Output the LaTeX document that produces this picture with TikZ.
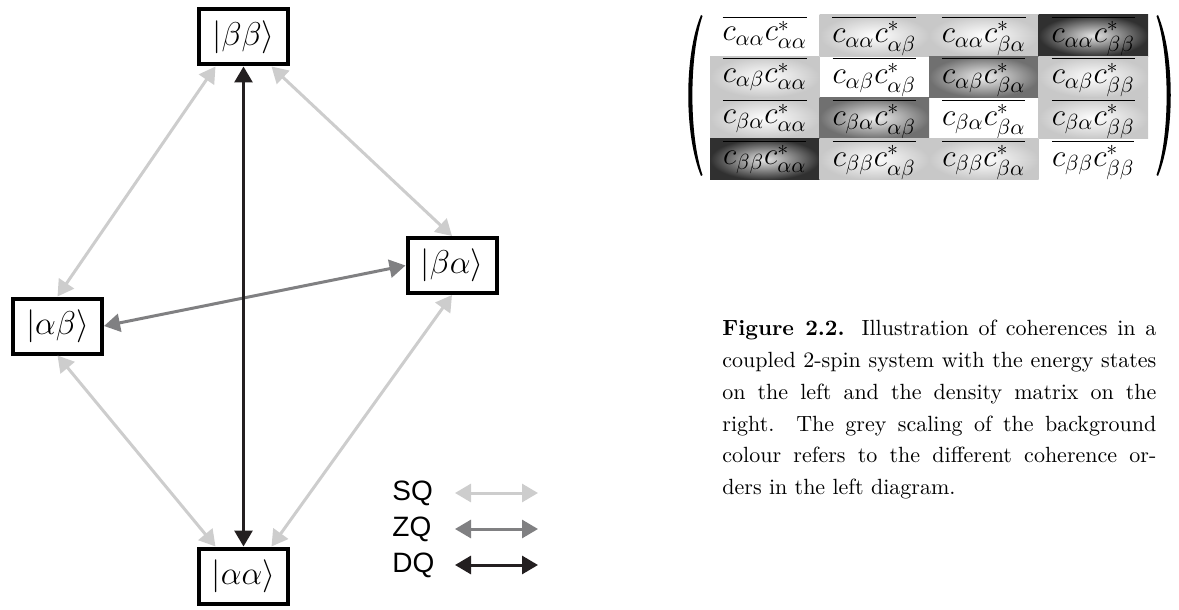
\RequirePackage{fix-cm}
\documentclass[tikz,border=0pt]{standalone}
\usepackage{amsmath}
\usepackage{fontspec}
\setmainfont{Latin Modern Roman}
\newfontfamily\legendfont{Liberation Sans}
\usetikzlibrary{arrows.meta}

% arrow colours for the coherence orders
\definecolor{sqgrey}{RGB}{205,205,205}
\definecolor{zqgrey}{RGB}{128,128,130}
\definecolor{dqgrey}{RGB}{35,31,32}
% background colours of the matrix elements
\definecolor{sqcell}{RGB}{200,200,200}
\definecolor{zqcell}{RGB}{112,112,112}
\definecolor{dqcell}{RGB}{48,48,48}

\tikzset{
  ket/.style={draw=black, line width=2pt, fill=white, minimum width=44.5pt,
    minimum height=27.5pt, inner sep=0pt, font=\fontsize{16.5}{20}\selectfont},
  cohtip/.tip={Triangle[length=8pt,width=9pt]},
  sqarrow/.style={draw=sqgrey, line width=1.5pt, {cohtip}-{cohtip}},
  zqarrow/.style={draw=zqgrey, line width=1.5pt, {cohtip}-{cohtip}},
  dqarrow/.style={draw=dqgrey, line width=1.5pt, {cohtip}-{cohtip}},
  legendlabel/.style={anchor=west, inner sep=0pt, font=\legendfont\fontsize{14}{16}\selectfont},
  cellnone/.style={},
  cellsq/.style={shading=radial, inner color=white, outer color=sqcell},
  cellzq/.style={shading=radial, inner color=white!94!black, outer color=zqcell},
  celldq/.style={shading=radial, inner color=white!90!black, outer color=dqcell},
  entry/.style={anchor=north, inner sep=0pt, font=\fontsize{15.6}{19}\selectfont},
  bracket/.style={fill=black},
}

\begin{document}
\begin{tikzpicture}[x=0.5pt, y=-0.5pt]
\useasboundingbox (0,0) rectangle (1179,610);

% energy levels of the coupled 2-spin system
\node[ket] (bb) at (243.5,37)  {$|\beta\beta\rangle$};
\node[ket] (ba) at (452,265.5) {$|\beta\alpha\rangle$};
\node[ket] (ab) at (57.5,326)  {$|\alpha\beta\rangle$};
\node[ket] (aa) at (243.5,576) {$|\alpha\alpha\rangle$};

% single-quantum transitions
\draw[sqarrow] ([xshift=-14pt]bb.south) -- (ab.north);
\draw[sqarrow] ([xshift=14pt]bb.south) -- (ba.north);
\draw[sqarrow] (ab.south) -- ([xshift=-14pt]aa.north);
\draw[sqarrow] (ba.south) -- ([xshift=14pt]aa.north);
% zero- and double-quantum transitions
\draw[zqarrow] (ab.east) -- (ba.west);
\draw[dqarrow] (bb.south) -- (aa.north);

% legend
\node[legendlabel] (lsq) at (392,493) {SQ};
\node[legendlabel] (lzq) at (392,529) {ZQ};
\node[legendlabel] (ldq) at (392,565) {DQ};
\coordinate (sqa) at (455,493); \coordinate (sqb) at (538,493);
\coordinate (zqa) at (455,529); \coordinate (zqb) at (538,529);
\coordinate (dqa) at (455,565); \coordinate (dqb) at (538,565);
\draw[sqarrow] (sqa) -- (sqb);
\draw[zqarrow] (zqa) -- (zqb);
\draw[dqarrow] (dqa) -- (dqb);

% density matrix
\foreach \r/\c/\t/\p/\q in {
  1/1/none/\alpha\alpha/\alpha\alpha, 1/2/sq/\alpha\alpha/\alpha\beta,
  1/3/sq/\alpha\alpha/\beta\alpha,    1/4/dq/\alpha\alpha/\beta\beta,
  2/1/sq/\alpha\beta/\alpha\alpha,    2/2/none/\alpha\beta/\alpha\beta,
  2/3/zq/\alpha\beta/\beta\alpha,     2/4/sq/\alpha\beta/\beta\beta,
  3/1/sq/\beta\alpha/\alpha\alpha,    3/2/zq/\beta\alpha/\alpha\beta,
  3/3/none/\beta\alpha/\beta\alpha,   3/4/sq/\beta\alpha/\beta\beta,
  4/1/dq/\beta\beta/\alpha\alpha,     4/2/sq/\beta\beta/\alpha\beta,
  4/3/sq/\beta\beta/\beta\alpha,      4/4/none/\beta\beta/\beta\beta}{
  \pgfmathsetmacro{\cx}{710+(\c-1)*109.5}
  \pgfmathsetmacro{\cy}{15+(\r-1)*41.25}
  \path[cell\t] (\cx,\cy) rectangle ++(109.5,41.25);
  \node[entry] (m\r\c) at (\cx+54.75,\cy+0.5) {$\overline{c_{\p}c^{*}_{\q}}$};
}
% round brackets of the matrix
\fill[bracket] (701,15) .. controls (684,55) and (684,135) .. (701,176)
  -- (702.5,175) .. controls (689,135) and (689,56) .. (702.5,16) -- cycle;
\fill[bracket] (1158,15) .. controls (1175,55) and (1175,135) .. (1158,176)
  -- (1156.5,175) .. controls (1170,135) and (1170,56) .. (1156.5,16) -- cycle;

% caption
\node[anchor=north west, inner sep=0pt, text width=217pt, align=justify,
      font=\fontsize{11}{15.85}\selectfont] (cap) at (722,320)
  {\textbf{Figure 2.2.} Illustration of coherences in a\linebreak
   coupled 2-spin system with the energy states\linebreak
   on the left and the density matrix on the\linebreak
   right. The grey scaling of the background\linebreak
   colour refers to the different coherence or-\linebreak
   ders in the left diagram.};
\end{tikzpicture}
\end{document}
